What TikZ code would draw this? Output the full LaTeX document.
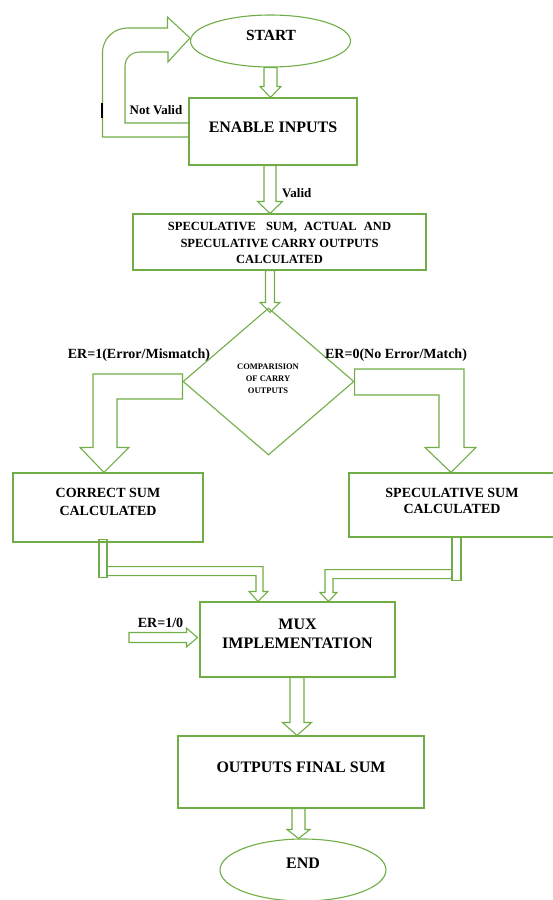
\documentclass[tikz,border=0pt]{standalone}
\usepackage{fontspec}
\setmainfont{Liberation Serif}
\usetikzlibrary{shapes.geometric,calc}
\definecolor{flowgreen}{RGB}{112,173,71}
\newcommand{\fsz}[2]{\fontsize{#1}{#2}\selectfont}
\newcommand{\downblock}[5]{%
	\draw[blk] let \p1=(#1), \p2=(#2) in
		(\x2-#3,\y1) -- (\x2-#3,\y2+#5) -- (\x2-#4,\y2+#5) -- (\x2,\y2)
		-- (\x2+#4,\y2+#5) -- (\x2+#3,\y2+#5) -- (\x2+#3,\y1) -- cycle;}
\tikzset{
	box/.style={draw=flowgreen, line width=1.1pt, rectangle, inner sep=0pt},
	term/.style={draw=flowgreen, line width=1.1pt, ellipse, inner sep=0pt},
	blk/.style={draw=flowgreen, line width=1.1pt},
	txt/.style={inner sep=0pt, align=center},
	lbl/.style={inner sep=0pt, font=\bfseries\fsz{13}{15}},
}
\begin{document}
\begin{tikzpicture}[x=1pt,y=-1pt]
	\useasboundingbox (0,0) rectangle (553,900);

	\node[term, minimum width=160pt, minimum height=52pt] (start) at (270.5,41) {};
	\node[box, minimum width=168pt, minimum height=67pt] (enable) at (273,131.5) {};
	\node[box, minimum width=293pt, minimum height=56pt] (spec) at (279.5,242) {};
	\node[draw=flowgreen, line width=1.1pt, diamond, inner sep=0pt, minimum width=171pt, minimum height=147pt] (cmp) at (268.5,381.5) {};
	\node[box, minimum width=190pt, minimum height=69pt] (corr) at (108,507.5) {};
	\node[box, minimum width=206pt, minimum height=64pt] (ssum) at (452,505) {};
	\node[box, minimum width=195pt, minimum height=75pt] (mux) at (297.5,639.5) {};
	\node[box, minimum width=246pt, minimum height=72pt] (out) at (301,772) {};
	\node[term, minimum width=166pt, minimum height=62pt] (end) at (303,870) {};

	\node[txt, font=\bfseries\fsz{15.5}{18}] (start-t) at (271,35) {START};
	\node[txt, font=\bfseries\fsz{16}{18}] (enable-t) at (273,127.5) {ENABLE INPUTS};
	\node[txt, font=\bfseries\fsz{12.5}{16.5}] (spec-t) at (279.5,243) {SPECULATIVE\hspace{7pt} SUM,\hspace{4pt} ACTUAL\hspace{4pt} AND\\SPECULATIVE CARRY OUTPUTS\\CALCULATED};
	\node[txt, font=\bfseries\fsz{8.5}{12}] (cmp-t) at (268,379) {COMPARISION\\OF CARRY\\OUTPUTS};
	\node[txt, font=\bfseries\fsz{14}{18}] (corr-t) at (108,502) {CORRECT SUM\\CALCULATED};
	\node[txt, font=\bfseries\fsz{14}{16.5}] (ssum-t) at (452,501) {SPECULATIVE SUM\\CALCULATED};
	\node[txt, font=\bfseries\fsz{16}{19}] (mux-t) at (297.5,633.5) {MUX\\IMPLEMENTATION};
	\node[txt, font=\bfseries\fsz{16}{18}] (out-t) at (301,767) {OUTPUTS FINAL SUM};
	\node[txt, font=\bfseries\fsz{16}{18}] (end-t) at (303,863.5) {END};

	\node[lbl] (notvalid) at (156,110) {Not Valid};
	\node[lbl, anchor=west] (valid) at (282,193) {Valid};
	\node[lbl, font=\bfseries\fsz{14}{16}] (er1) at (139,355) {ER=1(Error/Mismatch)};
	\node[lbl, font=\bfseries\fsz{14}{16}] (er0) at (396,355) {ER=0(No Error/Match)};
	\node[lbl, font=\bfseries\fsz{14}{16}] (ersel) at (160.5,623) {ER=1/0};

	\downblock{start.south}{$(enable.north)+(-2.5,0)$}{6.5pt}{10.5pt}{11pt}
	\downblock{enable.south}{$(spec.north)+(-9.5,0)$}{6pt}{12.5pt}{12pt}
	\downblock{spec.south}{$(cmp.north)+(1.5,5)$}{4.5pt}{10pt}{10pt}
	\downblock{mux.south}{$(out.north)+(-4,0)$}{7pt}{14.5pt}{13pt}
	\downblock{out.south}{$(end.north)+(-4.5,0)$}{6.5pt}{11.5pt}{9pt}

	\draw[blk] ([yshift=-5.5pt]enable.west) -- ++(-86,0) -- ++(0,-84)
		.. controls +(0,-14) and +(-14,0) .. ++(25,-25) -- ++(40,0) -- ++(0,-11)
		-- ([yshift=3pt]start.west) -- ++(-22,24) -- ++(0,-10) -- ++(-28,0)
		.. controls +(-9,0) and +(0,-9) .. ++(-15,15) -- ++(0,56) -- ([yshift=8.5pt]enable.west);
	\draw[line width=1.5pt] (102,103) -- (102,118);

	\draw[blk] let \p1=(cmp.west), \p2=($(corr.north)+(-4,0)$) in
		(\x1,\y1+7.5pt) -- (\x2-11pt,\y1+7.5pt) -- (\x2-11pt,\y2+25pt) -- (\x2-24pt,\y2+25pt) -- (\x2,\y2)
		-- (\x2+25pt,\y2+25pt) -- (\x2+13pt,\y2+25pt) -- (\x2+13pt,\y1-17.5pt) -- (\x1,\y1-17.5pt) -- cycle;
	\draw[blk] let \p1=(cmp.east), \p2=($(ssum.north)+(-1,0)$) in
		(\x1,\y1+12.5pt) -- (\x2+13pt,\y1+12.5pt) -- (\x2+13pt,\y2+25pt) -- (\x2+25pt,\y2+25pt) -- (\x2,\y2)
		-- (\x2-26pt,\y2+25pt) -- (\x2-12pt,\y2+25pt) -- (\x2-12pt,\y1-13.5pt) -- (\x1,\y1-13.5pt) -- cycle;

	\draw[blk] ($(corr.south)+(-9,-3)$) rectangle ($(corr.south)+(-1,35)$);
	\draw[blk] ($(ssum.south)+(0,0)$) rectangle ($(ssum.south)+(9,43)$);
	\coordinate (cs) at ($(corr.south)+(-1,24)$);
	\coordinate (ss) at ($(ssum.south)+(0,32)$);
	\coordinate (sel) at (129,638);

	\draw[blk] let \p1=(cs), \p2=($(mux.north)+(-39.5,0)$) in
		(\x1,\y1) -- (\x2+5pt,\y1) -- (\x2+5pt,\y2+10pt) -- (\x2+10pt,\y2+10pt) -- (\x2,\y2)
		-- (\x2-9pt,\y2+10pt) -- (\x2-2pt,\y2+10pt) -- (\x2-2pt,\y1-9pt) -- (\x1,\y1-9pt) -- cycle;
	\draw[blk] let \p1=(ss), \p2=($(mux.north)+(31,0)$) in
		(\x1,\y1) -- (\x2-3.5pt,\y1) -- (\x2-3.5pt,\y2+9pt) -- (\x2-8.5pt,\y2+9pt) -- (\x2,\y2)
		-- (\x2+8.5pt,\y2+9pt) -- (\x2+4.5pt,\y2+9pt) -- (\x2+4.5pt,\y1-9pt) -- (\x1,\y1-9pt) -- cycle;
	\draw[blk] let \p1=(sel), \p2=($(mux.west)+(-2,-2)$) in
		(\x1,\y2+5pt) -- (\x2-11pt,\y2+5pt) -- (\x2-11pt,\y2+9.5pt) -- (\x2,\y2)
		-- (\x2-11pt,\y2-9.5pt) -- (\x2-11pt,\y2-5pt) -- (\x1,\y2-5pt) -- cycle;
\end{tikzpicture}
\end{document}
